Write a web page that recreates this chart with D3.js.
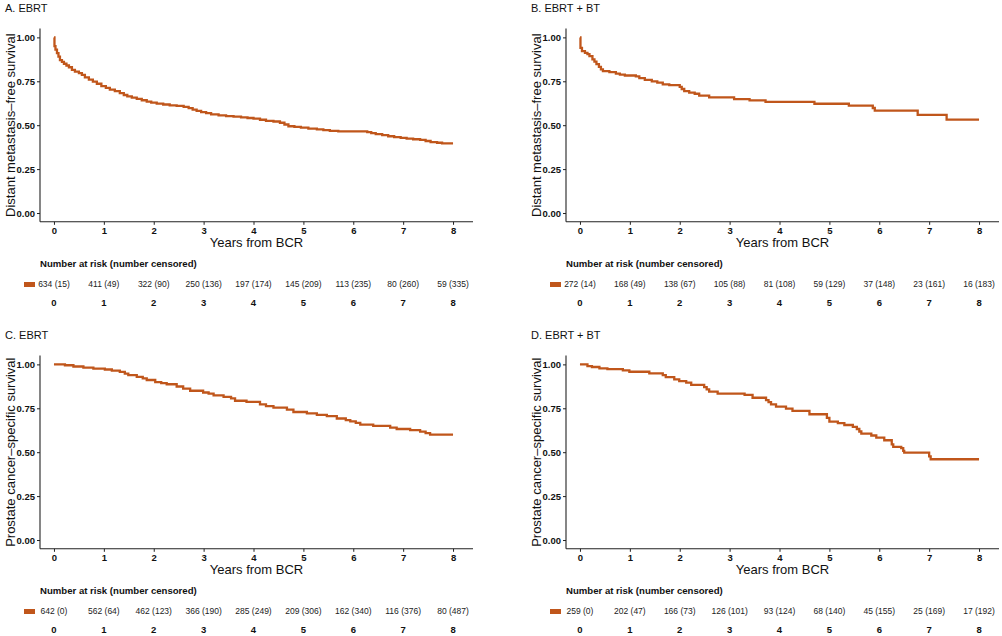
<!DOCTYPE html>
<html>
<head>
<meta charset="utf-8">
<script src="https://cdn.jsdelivr.net/npm/d3@7"></script>
<style>
  html, body { margin: 0; padding: 0; background: #fff; }
  svg { display: block; font-family: "Liberation Sans", Arial, sans-serif; }
</style>
</head>
<body>
<svg id="chart" width="1002" height="636"></svg>
<script>
// ---------- data ----------
const yearTicks = [0, 1, 2, 3, 4, 5, 6, 7, 8];
const survTicks = [0, 0.25, 0.5, 0.75, 1];

// Kaplan–Meier curves: [years, survival]
const dmfsEBRT = [[0,1.0],[0.01,0.95],[0.03,0.93],[0.06,0.91],[0.09,0.89],[0.12,0.87],[0.16,0.86],[0.2,0.85],[0.25,0.84],[0.3,0.83],[0.36,0.815],[0.42,0.805],[0.5,0.797],[0.56,0.787],[0.62,0.772],[0.7,0.76],[0.78,0.748],[0.86,0.736],[0.95,0.722],[1.04,0.712],[1.12,0.703],[1.22,0.694],[1.32,0.683],[1.4,0.672],[1.47,0.664],[1.56,0.657],[1.66,0.65],[1.76,0.642],[1.86,0.634],[1.95,0.628],[2.06,0.623],[2.19,0.618],[2.32,0.613],[2.46,0.61],[2.6,0.604],[2.7,0.597],[2.78,0.589],[2.86,0.582],[2.95,0.575],[3.05,0.569],[3.15,0.562],[3.3,0.556],[3.45,0.552],[3.6,0.549],[3.75,0.545],[3.88,0.541],[4.0,0.537],[4.13,0.531],[4.25,0.525],[4.4,0.521],[4.53,0.514],[4.62,0.504],[4.7,0.494],[4.82,0.49],[4.95,0.486],[5.1,0.481],[5.27,0.476],[5.4,0.472],[5.53,0.468],[5.7,0.465],[6.28,0.461],[6.36,0.455],[6.45,0.449],[6.58,0.443],[6.7,0.437],[6.82,0.432],[6.95,0.428],[7.07,0.424],[7.2,0.42],[7.34,0.416],[7.45,0.41],[7.55,0.404],[7.68,0.4],[7.78,0.396],[8.0,0.396]];
const dmfsEBRTBT = [[0,1.0],[0.01,0.94],[0.04,0.922],[0.1,0.912],[0.15,0.905],[0.19,0.893],[0.25,0.875],[0.29,0.862],[0.33,0.848],[0.38,0.832],[0.42,0.818],[0.46,0.808],[0.59,0.802],[0.72,0.794],[0.8,0.788],[0.9,0.783],[1.12,0.778],[1.19,0.768],[1.3,0.758],[1.44,0.749],[1.55,0.742],[1.66,0.733],[1.79,0.728],[2.0,0.718],[2.04,0.706],[2.09,0.694],[2.19,0.686],[2.3,0.679],[2.39,0.668],[2.59,0.658],[3.09,0.648],[3.4,0.641],[3.72,0.633],[4.7,0.622],[5.39,0.611],[5.87,0.598],[5.91,0.583],[6.77,0.559],[7.35,0.532],[8.0,0.532]];
const pcssEBRT = [[0,1.0],[0.22,0.995],[0.39,0.988],[0.59,0.982],[0.79,0.976],[1.02,0.971],[1.16,0.964],[1.32,0.957],[1.42,0.947],[1.49,0.939],[1.66,0.929],[1.78,0.92],[1.86,0.911],[2.03,0.899],[2.15,0.893],[2.26,0.887],[2.46,0.874],[2.59,0.862],[2.73,0.85],[2.99,0.84],[3.1,0.833],[3.2,0.824],[3.4,0.815],[3.55,0.806],[3.63,0.793],[3.86,0.786],[4.13,0.772],[4.25,0.762],[4.4,0.754],[4.67,0.742],[4.8,0.729],[5.07,0.721],[5.27,0.712],[5.47,0.705],[5.67,0.692],[5.85,0.683],[5.94,0.676],[6.05,0.667],[6.14,0.657],[6.4,0.65],[6.74,0.64],[6.87,0.632],[7.14,0.626],[7.34,0.617],[7.45,0.609],[7.54,0.6],[8.0,0.6]];
const pcssEBRTBT = [[0,1.0],[0.15,0.99],[0.24,0.985],[0.39,0.977],[0.55,0.973],[0.86,0.966],[0.99,0.958],[1.39,0.949],[1.66,0.939],[1.72,0.928],[1.89,0.915],[1.99,0.905],[2.13,0.896],[2.23,0.883],[2.49,0.87],[2.54,0.858],[2.59,0.845],[2.76,0.833],[3.3,0.826],[3.46,0.81],[3.73,0.797],[3.78,0.785],[3.83,0.772],[3.93,0.76],[4.13,0.748],[4.26,0.735],[4.6,0.716],[4.95,0.695],[5.0,0.674],[5.17,0.665],[5.3,0.655],[5.47,0.644],[5.55,0.632],[5.6,0.618],[5.64,0.606],[5.84,0.595],[5.94,0.583],[6.1,0.568],[6.25,0.545],[6.28,0.53],[6.44,0.523],[6.48,0.508],[6.5,0.498],[7.0,0.476],[7.03,0.46],[8.0,0.46]];

// Risk tables
const atRiskA = [634, 411, 322, 250, 197, 145, 113, 80, 59];
const censA   = [15, 49, 90, 136, 174, 209, 235, 260, 335];
const atRiskB = [272, 168, 138, 105, 81, 59, 37, 23, 16];
const censB   = [14, 49, 67, 88, 108, 129, 148, 161, 183];
const atRiskC = [642, 562, 462, 366, 285, 209, 162, 116, 80];
const censC   = [0, 64, 123, 190, 249, 306, 340, 376, 487];
const atRiskD = [259, 202, 166, 126, 93, 68, 45, 25, 17];
const censD   = [0, 47, 73, 101, 124, 140, 155, 169, 192];

const panelTitles = ["A. EBRT", "B. EBRT + BT", "C. EBRT", "D. EBRT + BT"];
const yTitles = ["Distant metastasis\u2013free survival", "Distant metastasis\u2013free survival",
                 "Prostate cancer\u2013specific survival", "Prostate cancer\u2013specific survival"];
const xTitle = "Years from BCR";
const riskHeader = "Number at risk (number censored)";

// ---------- drawing ----------
const color = "#C0561B";
const svg = d3.select("#chart");

const panels = [
  {dx: 0,   dy: 0,   curve: dmfsEBRT,   risk: atRiskA, cens: censA},
  {dx: 526, dy: 0,   curve: dmfsEBRTBT, risk: atRiskB, cens: censB},
  {dx: 0,   dy: 327, curve: pcssEBRT,   risk: atRiskC, cens: censC},
  {dx: 526, dy: 327, curve: pcssEBRTBT, risk: atRiskD, cens: censD}
];

panels.forEach((p, i) => {
  const g = svg.append("g").attr("transform", `translate(${p.dx},${p.dy})`);
  const x = d3.scaleLinear().domain([-0.28, 8.4]).range([40, 473]);
  const y = d3.scaleLinear().domain([-0.05, 1.05]).range([221.8, 28.6]);

  // title
  g.append("text").attr("x", 5).attr("y", 12)
    .attr("font-size", 11).attr("fill", "#111").text(panelTitles[i]);

  // axes
  const xAxis = d3.axisBottom(x).tickValues(yearTicks).tickSize(3).tickPadding(2).tickFormat(d3.format("d"));
  const yAxis = d3.axisLeft(y).tickValues(survTicks).tickSize(3).tickPadding(2).tickFormat(d3.format(".2f"));

  const gx = g.append("g").attr("transform", `translate(0,${y.range()[0]})`).call(xAxis);
  const gy = g.append("g").attr("transform", `translate(${x.range()[0]},0)`).call(yAxis);
  [gx, gy].forEach(a => {
    a.select(".domain").attr("stroke", "#222").attr("stroke-width", 1.1);
    a.selectAll(".tick line").attr("stroke", "#222");
    a.selectAll(".tick text").attr("font-family", "Liberation Sans, Arial, sans-serif")
      .attr("font-size", 9.5).attr("font-weight", "bold").attr("fill", "#111");
  });
  gy.select(".domain").attr("d", `M0,${y.range()[0]}V${y.range()[1]}`);
  gx.select(".domain").attr("d", `M${x.range()[0]},0H${x.range()[1]}`);

  // axis titles
  g.append("text")
    .attr("transform", `translate(15,${(y(0) + y(1)) / 2}) rotate(-90)`)
    .attr("text-anchor", "middle").attr("font-size", 13).attr("fill", "#111")
    .text(yTitles[i]);
  g.append("text")
    .attr("x", (x.range()[0] + x.range()[1]) / 2).attr("y", 247)
    .attr("text-anchor", "middle").attr("font-size", 13).attr("fill", "#111")
    .text(xTitle);

  // KM step curve
  const line = d3.line().x(d => x(d[0])).y(d => y(d[1])).curve(d3.curveStepAfter);
  g.append("path").datum(p.curve).attr("d", line)
    .attr("fill", "none").attr("stroke", color).attr("stroke-width", 2.3)
    .attr("stroke-linejoin", "miter");

  // risk table
  g.append("text").attr("x", 40).attr("y", 266.8)
    .attr("font-size", 9.6).attr("font-weight", "bold").attr("fill", "#111")
    .text(riskHeader);
  g.append("rect").attr("x", 24).attr("y", 282).attr("width", 11).attr("height", 5)
    .attr("fill", color);
  g.selectAll(".risk").data(yearTicks).enter().append("text")
    .attr("x", d => x(d)).attr("y", 287.4)
    .attr("text-anchor", "middle").attr("font-size", 8.5).attr("fill", "#222")
    .text((d, k) => `${p.risk[k]} (${p.cens[k]})`);
  g.selectAll(".rtime").data(yearTicks).enter().append("text")
    .attr("x", d => x(d)).attr("y", 306)
    .attr("text-anchor", "middle").attr("font-size", 9.5).attr("font-weight", "bold").attr("fill", "#111")
    .text(d => d);
});
</script>
</body>
</html>
